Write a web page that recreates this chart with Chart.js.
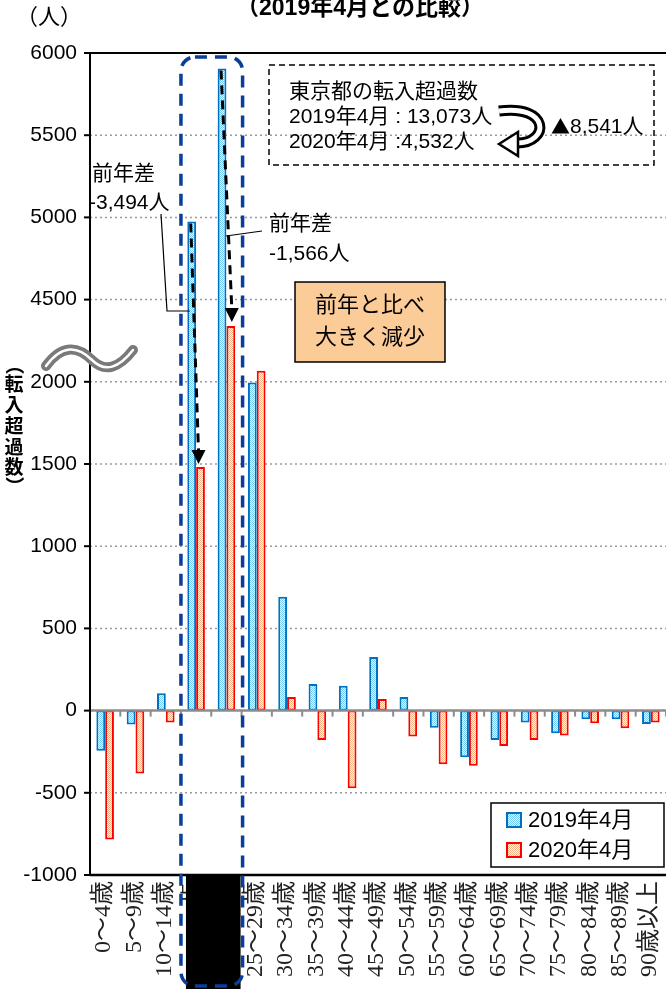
<!DOCTYPE html>
<html>
<head>
<meta charset="utf-8">
<script src="https://cdn.jsdelivr.net/npm/chart.js@4"></script>
<style>
  body { margin: 0; background: #fff; }
  canvas { display: block; }
</style>
</head>
<body>
<canvas id="migration" width="666" height="989"></canvas>
<script>
// age groups and net in-migration to Tokyo (persons)
var ageLabels = ['0～4歳', '5～9歳', '10～14歳', '15～19歳', '20～24歳', '25～29歳', '30～34歳', '35～39歳',
  '40～44歳', '45～49歳', '50～54歳', '55～59歳', '60～64歳', '65～69歳', '70～74歳', '75～79歳',
  '80～84歳', '85～89歳', '90歳以上'];
var apr2019 = [-244, -85, 106, 4975, 5906, 1995, 693, 162, 151, 326, 82, -104, -284, -179, -73, -138, -53, -53, -81];
var apr2020 = [-784, -382, -73, 1481, 4340, 2067, 82, -179, -473, 70, -158, -327, -335, -215, -179, -152, -77, -107, -73];
var seriesNames = ['2019年4月', '2020年4月'];

// broken axis: 2000..4000 is cut out
var cutSize = 2000;
function toAxis(v) { return v > 3000 ? v - cutSize : v; }
function toLabel(v) { return v > 2000 ? v + cutSize : v; }

var JP = '"Liberation Sans", "Noto Sans CJK JP", sans-serif';
var ctx = document.getElementById('migration').getContext('2d');

function checker(color) {
  var c = document.createElement('canvas');
  c.width = 2; c.height = 2;
  var g = c.getContext('2d');
  g.fillStyle = '#ffffff'; g.fillRect(0, 0, 2, 2);
  g.fillStyle = color; g.fillRect(0, 0, 1, 1); g.fillRect(1, 1, 1, 1);
  return ctx.createPattern(c, 'repeat');
}
var bluePat = checker('#6fcdf5');
var redPat = checker('#f4b183');

function line(g, pts) {
  g.beginPath();
  g.moveTo(pts[0][0], pts[0][1]);
  for (var i = 1; i < pts.length; i++) g.lineTo(pts[i][0], pts[i][1]);
  g.stroke();
}

function dashedArrow(g, x1, y1, x2, y2) {
  g.save();
  g.strokeStyle = '#000'; g.lineWidth = 3; g.setLineDash([9, 6]);
  line(g, [[x1, y1], [x2, y2 - 13]]);
  g.setLineDash([]);
  g.fillStyle = '#000';
  g.beginPath();
  g.moveTo(x2, y2); g.lineTo(x2 - 7, y2 - 14); g.lineTo(x2 + 7, y2 - 14);
  g.closePath(); g.fill();
  g.restore();
}

var decor = {
  id: 'decor',
  beforeDatasetsDraw: function (chart) {
    var g = chart.ctx, ys = chart.scales.y, a = chart.chartArea;
    g.save();
    g.strokeStyle = '#9a9a9a'; g.lineWidth = 1.5; g.setLineDash([2, 3]);
    ys.ticks.forEach(function (t) {
      if (t.value === ys.min || t.value === ys.max || t.value === 0) return;
      var y = ys.getPixelForValue(t.value);
      line(g, [[a.left, y], [a.right, y]]);
    });
    g.restore();
  },
  afterDatasetsDraw: function (chart) {
    var g = chart.ctx, ys = chart.scales.y, xs = chart.scales.x, a = chart.chartArea;
    g.save();
    // zero line with category ticks
    var y0 = ys.getPixelForValue(0);
    g.strokeStyle = '#8c8c8c'; g.lineWidth = 2.5;
    line(g, [[a.left, y0], [a.right, y0]]);
    g.lineWidth = 2;
    var cw = xs.width / ageLabels.length;
    for (var i = 1; i <= ageLabels.length; i++) {
      line(g, [[a.left + i * cw, y0], [a.left + i * cw, y0 + 6]]);
    }
    // frame
    g.strokeStyle = '#000'; g.lineWidth = 2;
    line(g, [[a.left, a.top], [a.right, a.top]]);
    line(g, [[a.left, a.top], [a.left, a.bottom]]);
    g.lineWidth = 2.5;
    line(g, [[a.left, a.bottom], [a.right, a.bottom]]);
    g.lineWidth = 2;
    ys.ticks.forEach(function (t) {
      var y = ys.getPixelForValue(t.value);
      line(g, [[a.left - 6, y], [a.left, y]]);
    });
    // axis break symbol
    g.lineCap = 'round';
    g.beginPath();
    g.moveTo(46, 366);
    g.bezierCurveTo(62, 344, 78, 346, 92, 360);
    g.bezierCurveTo(105, 373, 119, 368, 133, 350);
    g.strokeStyle = '#7a7a7a'; g.lineWidth = 10; g.stroke();
    g.strokeStyle = '#ffffff'; g.lineWidth = 2.5; g.stroke();
    g.restore();
  },
  afterDraw: function (chart) {
    var g = chart.ctx, ys = chart.scales.y, xs = chart.scales.x, a = chart.chartArea;
    var m0 = chart.getDatasetMeta(0).data, m1 = chart.getDatasetMeta(1).data;
    var cw = xs.width / ageLabels.length;
    g.save();

    // category labels, rotated
    g.fillStyle = '#222';
    g.font = '24px "Liberation Serif", "Noto Sans CJK JP", serif';
    g.textAlign = 'right'; g.textBaseline = 'middle';
    ageLabels.forEach(function (lab, i) {
      g.save();
      g.translate(xs.getPixelForValue(i) - 1, a.bottom + 6);
      g.rotate(-Math.PI / 2);
      g.fillText(lab, 0, 0);
      g.restore();
    });

    // titles
    g.fillStyle = '#000';
    g.font = 'bold 23px ' + JP; g.textAlign = 'center'; g.textBaseline = 'alphabetic';
    g.fillText('（2019年4月との比較）', 360, 15);
    g.font = '22px ' + JP; g.textBaseline = 'middle';
    g.fillText('（人）', 49, 18);

    // vertical y title
    g.font = 'bold 19px "Noto Sans CJK JP", sans-serif';
    var yt = [['（', 365, true], ['転', 384], ['入', 405], ['超', 426], ['過', 447], ['数', 467], ['）', 486, true]];
    yt.forEach(function (c) {
      if (c[2]) {
        g.save(); g.translate(14, c[1]); g.rotate(Math.PI / 2);
        g.fillText(c[0], 0, 0); g.restore();
      } else {
        g.fillText(c[0], 14, c[1]);
      }
    });

    // hidden labels under black box
    var lx = xs.getPixelForValue(3) - cw / 2 + 5;
    var rx = xs.getPixelForValue(4) + cw / 2 - 1;
    g.fillStyle = '#000';
    g.fillRect(lx, a.bottom + 1, rx - lx, chart.height - a.bottom);

    // blue dashed frame around 15-24
    var fx = xs.getPixelForValue(3) - cw / 2, fr = xs.getPixelForValue(4) + cw / 2 + 1;
    g.strokeStyle = '#0b3d9a'; g.lineWidth = 3.5; g.setLineDash([12, 8]);
    g.beginPath();
    g.roundRect(fx, a.top + 4, fr - fx, chart.height - 3 - (a.top + 4), 14);
    g.stroke();
    g.setLineDash([]);

    // dashed arrows between years
    dashedArrow(g, m0[3].x - 1, m0[3].y + 2, m1[3].x - 2, m1[3].y - 3);
    dashedArrow(g, m0[4].x - 1, m0[4].y + 2, m1[4].x + 1, m1[4].y - 4);

    // callouts
    g.fillStyle = '#000'; g.textAlign = 'left'; g.textBaseline = 'middle';
    g.font = '21px ' + JP;
    g.fillText('前年差', 92, 174);
    g.fillText('-3,494人', 89, 203);
    g.fillText('前年差', 269, 224);
    g.fillText('-1,566人', 269, 254);
    g.strokeStyle = '#000'; g.lineWidth = 1.2;
    line(g, [[161, 214], [167, 311], [m0[3].x - 2, 311]]);
    line(g, [[262, 231], [m0[4].x + 4, 236]]);

    // info box
    g.lineWidth = 1.5; g.setLineDash([6, 4]);
    g.strokeRect(269, 65, 385, 100);
    g.setLineDash([]);
    g.fillText('東京都の転入超過数', 289, 92);
    g.fillText('2019年4月 : 13,073人', 289, 117);
    g.fillText('2020年4月 :4,532人', 289, 142);
    g.fillText('8,541人', 570, 127);
    g.font = '19px "Noto Sans CJK JP", sans-serif';
    g.fillText('▲', 551, 127);
    // curved hollow arrow
    g.beginPath();
    g.moveTo(499, 111);
    g.bezierCurveTo(550, 104, 550, 143, 517, 143);
    g.lineWidth = 11; g.strokeStyle = '#000'; g.stroke();
    g.lineWidth = 5; g.strokeStyle = '#fff'; g.stroke();
    g.beginPath();
    g.moveTo(499, 144); g.lineTo(518, 132); g.lineTo(518, 156); g.closePath();
    g.fillStyle = '#fff'; g.fill();
    g.lineWidth = 2.5; g.strokeStyle = '#000'; g.stroke();

    // orange note
    g.fillStyle = '#fbcb98';
    g.fillRect(295, 282, 150, 80);
    g.lineWidth = 1.5; g.strokeRect(295, 282, 150, 80);
    g.fillStyle = '#000'; g.textAlign = 'center';
    g.font = '22px ' + JP;
    g.fillText('前年と比べ', 370, 306);
    g.fillText('大きく減少', 370, 338);

    // legend
    g.fillStyle = '#fff';
    g.fillRect(491, 803, 173, 64);
    g.strokeStyle = '#000'; g.lineWidth = 1.5;
    g.strokeRect(491, 803, 173, 64);
    var sw = [[bluePat, '#0070c0', 820], [redPat, '#ff0000', 850]];
    g.textAlign = 'left';
    sw.forEach(function (s, i) {
      g.fillStyle = s[0]; g.fillRect(507, s[2] - 7, 14, 14);
      g.strokeStyle = s[1]; g.lineWidth = 2; g.strokeRect(507, s[2] - 7, 14, 14);
      g.fillStyle = '#000'; g.fillText(seriesNames[i], 528, s[2] + 1);
    });
    g.restore();
  }
};

new Chart(ctx, {
  type: 'bar',
  data: {
    labels: ageLabels,
    datasets: [{
      label: seriesNames[0],
      data: apr2019.map(toAxis),
      backgroundColor: bluePat,
      borderColor: '#0070c0',
      borderWidth: 2,
      borderSkipped: false
    }, {
      label: seriesNames[1],
      data: apr2020.map(toAxis),
      backgroundColor: redPat,
      borderColor: '#ff0000',
      borderWidth: 2,
      borderSkipped: false
    }]
  },
  options: {
    responsive: false,
    animation: false,
    layout: { padding: { top: 53, right: 0, left: 0, bottom: 0 } },
    datasets: { bar: { categoryPercentage: 0.58, barPercentage: 1 } },
    plugins: { legend: { display: false }, tooltip: { enabled: false } },
    scales: {
      x: {
        grid: { display: false, drawTicks: false },
        border: { display: false },
        ticks: { display: false },
        afterFit: function (s) { s.height = 114; s.paddingLeft = 0; s.paddingRight = 0; }
      },
      y: {
        min: -1000, max: 4000,
        grid: { display: false, drawTicks: false },
        border: { display: false },
        ticks: {
          stepSize: 500, padding: 13, color: '#000',
          font: { family: '"Liberation Sans", sans-serif', size: 21 },
          callback: function (v) { return toLabel(v); }
        },
        afterFit: function (s) { s.width = 90; s.paddingTop = 0; s.paddingBottom = 0; }
      }
    }
  },
  plugins: [decor]
});
</script>
</body>
</html>
